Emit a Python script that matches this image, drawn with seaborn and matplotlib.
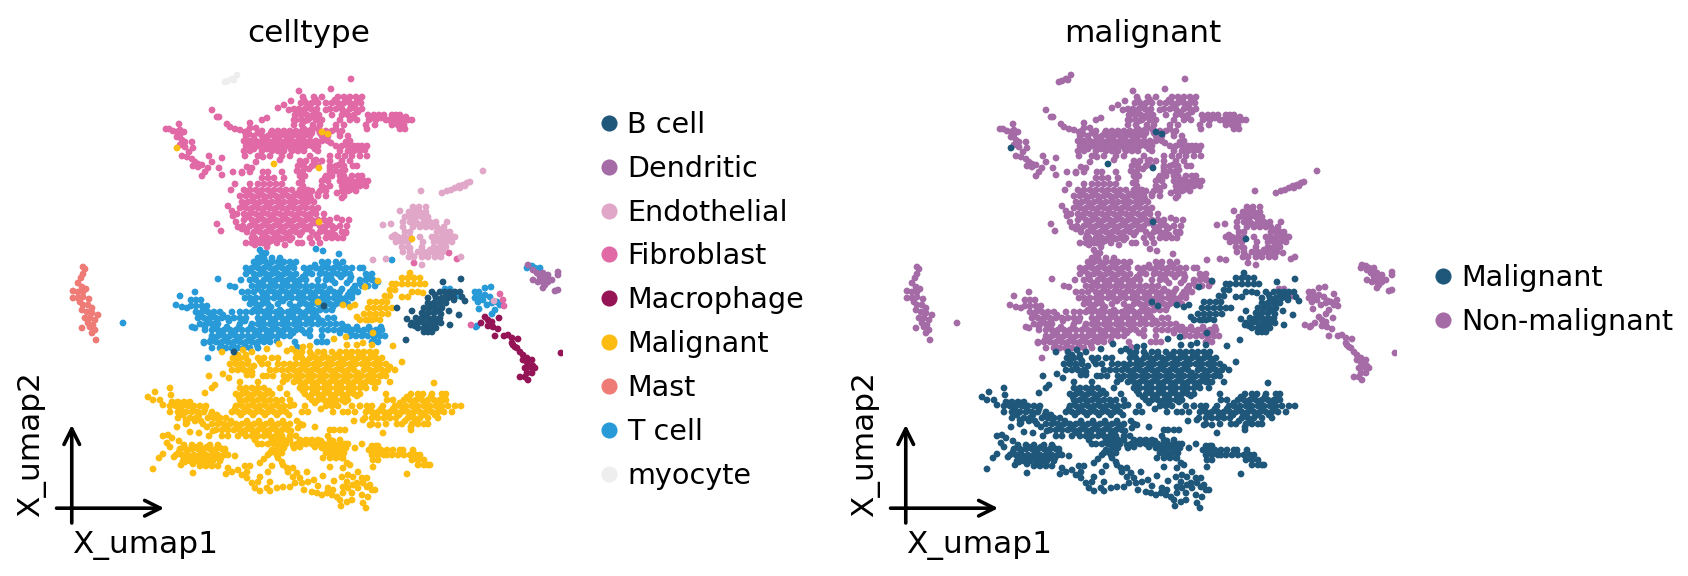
import pandas as pd
import matplotlib
matplotlib.use("Agg")
import matplotlib.pyplot as plt
import seaborn as sns

# values, umap2 axis runs downwards here
# rows are (umap2, [umap1, ...]), extras are single (umap1, umap2) points
fibroblast_rows = [
    (97, [303, 314, 322, 338, 344, 350, 356, 362]),
    (103, [301, 306, 312, 318, 326, 332, 338, 344, 350, 356, 361]),
    (109, [294, 299, 305, 311, 317, 330, 336, 342, 350, 356, 362]),
    (115, [295, 301, 307, 313, 319, 332, 342, 348, 354, 368, 374, 379, 384, 392, 396, 400]),
    (120, [294, 302, 308, 316, 322, 340, 350, 357, 369, 376, 386, 392, 398, 403, 408, 412]),
    (125, [294, 302, 313, 320, 336, 344, 366, 375, 392, 398, 404]),
    (129, [304, 312, 318, 336, 367, 400, 405]),
    (133, [302, 312, 320, 327, 340]),
    (131, [248, 262, 272, 278, 284, 290, 296, 302, 308, 320, 326, 332, 342]),
    (136, [246, 254, 262, 268, 274, 280, 286, 292, 298, 304, 310, 322, 328, 340, 348]),
    (141, [244, 250, 256, 262, 268, 274, 280, 286, 292, 298, 304, 310, 316, 322, 328, 350]),
    (146, [246, 252, 258, 264, 270, 276, 282, 288, 294, 300, 306, 312, 318, 336, 342, 348, 354, 362, 367]),
    (151, [244, 250, 262, 272, 278, 284, 292, 298, 304, 318, 340, 348, 354, 360]),
    (156, [245, 258, 270, 282, 290, 310, 330, 338, 345, 352, 360, 367]),
    (161, [300, 306, 314, 322, 330, 342, 350]),
    (166, [298, 304, 312, 318, 330, 336, 344, 353, 357]),
    (171, [297, 303, 330, 336, 342]),
    (176, [300, 305, 326, 332, 344, 352, 358, 362]),
    (181, [302, 322, 328, 340, 346, 352, 358, 364, 368]),
    (186, [303, 322, 330, 342, 348, 354, 360, 366]),
    (191, [304, 312, 320, 326, 342, 348, 356]),
    (196, [310, 318, 326, 344]),
    (172, [233, 242, 250, 263, 268, 282]),
    (178, [262, 268, 274, 284]),
    (184, [235, 250, 258, 264, 270, 276, 282]),
    (190, [231, 244, 250, 256, 262, 268, 274, 280, 286, 292, 300]),
    (196, [240, 246, 252, 258, 264, 270, 276, 282, 288, 294, 300, 306]),
    (202, [242, 248, 254, 260, 266, 272, 278, 284, 290, 296, 302, 308, 314]),
    (208, [240, 246, 252, 258, 264, 270, 276, 282, 288, 294, 300, 306, 312, 318]),
    (214, [244, 250, 256, 262, 268, 274, 280, 286, 292, 298, 304, 310, 316, 324]),
    (220, [244, 252, 258, 264, 270, 276, 282, 288, 294, 300, 306, 312, 318, 324, 330, 342, 349]),
    (226, [243, 250, 256, 262, 268, 274, 280, 286, 292, 298, 304, 310, 320, 326, 332, 340, 347]),
    (232, [247, 254, 260, 266, 272, 278, 284, 290, 296, 302, 312, 320, 326, 332, 342, 346]),
    (238, [252, 255, 262, 268, 274, 280, 286, 292, 310, 318, 326, 332, 338, 343]),
    (243, [246, 252, 260, 263, 268, 277, 298, 302, 312, 320]),
]
fibroblast_extra = [
    (351, 79), (331, 89), (299, 91), (284, 105), (278, 108), (291, 101), (289, 110),
    (267, 118), (262, 120), (250, 123), (212, 110), (217, 117), (219, 117),
    (227, 124), (230, 127), (235, 129), (240, 130), (245, 132), (250, 128), (256, 128),
    (209, 156), (212, 162), (222, 158), (219, 168), (222, 175), (263, 157), (280, 160), (256, 162),
    (337, 193), (342, 198), (247, 167), (252, 168), (242, 173),
    (255, 245), (267, 247), (285, 245), (335, 235), (346, 233),
    (228, 206), (232, 211), (237, 214), (233, 216), (217, 224), (221, 231), (236, 222), (238, 227), (242, 229),
    (166, 129), (169, 129), (173, 131), (177, 132), (180, 130), (179, 124), (184, 132), (180, 135), (177, 137),
    (182, 140), (180, 145), (185, 142), (192, 142), (185, 147), (193, 148), (189, 152), (182, 156), (187, 157),
    (192, 159), (195, 162), (198, 164), (193, 166), (202, 165), (198, 167), (208, 168), (205, 172), (202, 176),
    (414, 263), (449, 253), (457, 259), (471, 325), (500, 294), (503, 300), (504, 306),
    # denser spots
    (247, 193), (253, 199), (259, 193), (265, 199), (272, 194), (278, 199), (285, 193), (291, 199), (297, 194),
    (303, 199), (245, 205), (251, 211), (257, 205), (263, 211), (269, 205), (275, 211), (281, 205), (287, 211),
    (293, 205), (299, 211), (305, 205), (311, 199), (310, 215), (248, 217), (254, 223), (260, 217), (266, 223),
    (272, 217), (278, 223), (284, 217), (290, 223), (296, 217), (302, 223), (308, 217), (315, 211), (247, 229),
    (253, 235), (259, 229), (265, 235), (271, 229), (277, 235), (283, 229), (289, 235), (295, 229), (300, 235),
    (307, 229), (258, 241), (264, 239), (271, 241), (282, 239), (290, 240), (315, 223), (322, 229), (328, 235),
    (316, 235), (329, 223), (335, 228), (337, 218),
    (249, 134), (258, 133), (265, 139), (271, 133), (277, 139), (283, 133), (289, 139), (295, 133), (301, 139),
    (307, 134), (248, 144), (254, 149), (260, 143), (267, 149), (273, 144), (279, 149), (285, 143), (291, 149),
    (297, 144), (303, 149), (309, 144), (315, 149), (325, 137), (331, 143), (346, 142), (340, 148), (352, 151),
    (358, 146), (365, 150),
    (304, 100), (310, 106), (316, 100), (335, 100), (341, 106), (347, 100), (353, 106), (359, 100), (298, 112),
    (304, 112), (310, 118), (316, 112), (296, 120), (305, 121), (326, 110), (345, 112), (352, 118), (358, 112),
    (372, 118), (381, 118), (389, 120), (395, 120), (401, 123), (406, 117),
    (302, 164), (309, 169), (316, 160), (330, 168), (339, 165), (345, 170), (348, 180), (355, 184), (361, 179),
    (344, 186), (350, 190), (325, 188), (318, 194), (308, 190), (301, 174), (299, 183), (340, 176), (325, 178),
]
endothelial_rows = [
    (207, [413, 419, 426]),
    (212, [409, 414, 420, 426]),
    (217, [405, 410, 416, 422, 428]),
    (222, [403, 410, 416, 424, 430, 436, 447]),
    (227, [403, 413, 420, 426, 432, 437, 444]),
    (232, [405, 410, 437, 442, 446, 450]),
    (237, [392, 398, 404, 410, 420, 432, 436, 442, 448, 453, 455]),
    (242, [396, 402, 408, 423, 434, 440, 446, 452]),
    (247, [402, 408, 422, 434, 440, 446]),
    (252, [403, 410, 418, 424, 432, 438, 443]),
    (257, [409, 414, 422, 428, 435, 441, 461]),
]
endothelial_extra = [
    (442, 193), (447, 191), (451, 190), (455, 188), (459, 186), (463, 185), (467, 183), (470, 182), (460, 188), (465, 186),
    (483, 171), (421, 191), (400, 211), (383, 225), (391, 224), (395, 235), (373, 260), (386, 259), (422, 265),
    (494, 301),
    (416, 209), (422, 214), (412, 220), (418, 224), (428, 220), (434, 225), (440, 230), (445, 235), (439, 240),
    (445, 245), (451, 240), (436, 250), (405, 240), (399, 240), (410, 248), (412, 256), (426, 255), (430, 250),
]
tcell_rows = [
    (253, [262, 266]),
    (258, [258, 264, 272, 280]),
    (262, [254, 260, 266, 272, 278, 284, 290, 296, 322, 328, 336, 343]),
    (268, [246, 252, 258, 264, 270, 276, 282, 288, 294, 304, 310, 316, 322, 328, 334, 340, 346, 352, 360, 363]),
    (274, [246, 254, 260, 266, 272, 278, 284, 290, 296, 306, 312, 320, 326, 332, 338, 344, 350, 366, 372]),
    (280, [241, 250, 256, 264, 270, 276, 282, 288, 294, 300, 306, 318, 326, 332, 350, 360, 366, 372]),
    (286, [252, 258, 264, 270, 276, 282, 288, 294, 300, 306, 312, 318, 324, 355, 362, 368, 375]),
    (292, [242, 248, 254, 262, 268, 274, 280, 286, 292, 298, 304, 310, 316, 322, 328, 334, 340, 350, 358]),
    (298, [245, 250, 256, 262, 268, 274, 280, 286, 292, 298, 304, 310, 316, 322, 328, 334, 340, 346, 352]),
    (304, [250, 256, 262, 268, 278, 290, 300, 306, 312, 318, 324, 330, 336, 342, 348]),
    (310, [254, 260, 268, 280, 292, 298, 308, 314, 320, 326, 332]),
    (300, [191, 196, 201]),
    (306, [191, 196, 202, 207]),
    (312, [196, 202, 208, 214, 220, 232, 240, 246, 252, 258, 264, 270, 276, 282, 288, 294, 300, 306, 312]),
    (318, [198, 204, 210, 216, 222, 228, 234, 240, 246, 258, 264, 270, 276, 282, 288, 294, 300, 306, 312, 318, 328, 334]),
    (324, [200, 206, 212, 218, 240, 252, 258, 264, 270, 276, 282, 288, 294, 300, 306, 312, 318, 324, 330, 336, 342]),
    (330, [205, 212, 218, 224, 230, 236, 242, 248, 254, 260, 266, 272, 278, 284, 290, 296, 302, 310, 322, 328, 334, 340, 346, 352, 358, 364, 370, 376, 380]),
    (336, [212, 218, 224, 230, 236, 242, 248, 254, 260, 266, 272, 278, 284, 290, 310, 322, 350, 356, 362, 368, 374, 380, 385]),
    (342, [204, 210, 216, 222, 228, 234, 240, 246, 252, 258, 264, 270, 317, 322, 372, 378]),
    (348, [212, 220, 226, 232, 238, 244, 250, 258]),
]
tcell_extra = [
    (260, 250), (316, 249), (323, 251), (339, 254), (218, 279), (230, 286), (235, 287), (373, 280), (378, 282),
    (355, 290), (352, 295), (342, 299), (180, 296), (195, 292), (176, 305), (182, 307), (187, 308),
    (192, 327), (195, 328), (204, 343), (208, 358), (232, 348), (277, 341), (295, 342), (297, 347), (327, 342),
    (374, 340), (123, 323), (392, 260), (211, 340),
    (475, 292), (479, 292), (485, 288), (491, 287), (480, 297), (485, 295), (490, 297), (475, 298), (478, 302),
    (483, 300), (487, 305), (492, 303), (497, 302), (500, 305), (495, 310), (492, 314), (479, 309), (477, 326), (476, 327),
    (527, 268), (532, 266), (535, 268), (540, 268), (445, 289), (450, 289), (459, 296), (380, 329), (382, 330),
    # denser spots
    (257, 265), (263, 271), (269, 265), (275, 271), (281, 265), (287, 271), (293, 265), (249, 271), (255, 277),
    (261, 283), (267, 277), (273, 283), (279, 277), (285, 283), (291, 277), (297, 283), (303, 277), (309, 271),
    (315, 265), (321, 271), (327, 265), (333, 271), (339, 265), (345, 271), (351, 277), (327, 277), (335, 283),
    (341, 277), (347, 283), (353, 289), (360, 283), (367, 277), (258, 289), (264, 295), (270, 289), (276, 295),
    (282, 289), (288, 295), (294, 289), (300, 295), (306, 289), (312, 295), (318, 289), (324, 295), (330, 289),
    (336, 295), (342, 289), (348, 295), (354, 289), (253, 301), (259, 307), (265, 301), (271, 307), (283, 301),
    (295, 307), (303, 301), (309, 307), (315, 301), (321, 307), (327, 301), (333, 307), (339, 301), (345, 301),
    (199, 315), (205, 309), (211, 315), (217, 321), (223, 315), (229, 321), (205, 327), (209, 321), (215, 327),
    (221, 333), (227, 327), (233, 333), (239, 327), (245, 321), (251, 327), (257, 333), (263, 327), (269, 333),
    (275, 327), (281, 333), (287, 327), (293, 333), (299, 327), (305, 333), (262, 321), (268, 315), (274, 321),
    (280, 315), (286, 321), (292, 315), (298, 321), (304, 315), (310, 321), (316, 315), (322, 321), (345, 327),
    (351, 333), (357, 327), (363, 333), (369, 327), (375, 333), (381, 327), (215, 339), (221, 345), (227, 339),
    (233, 345), (239, 339), (245, 345), (251, 339), (257, 345), (263, 339), (269, 339), (340, 333), (348, 327),
]
malignant_rows = [
    (278, [402, 408, 414, 420]),
    (284, [392, 396, 402, 408, 414, 420, 425]),
    (290, [390, 395]),
    (296, [385, 390]),
    (302, [370, 376, 382, 387]),
    (308, [368, 374, 380, 386, 392]),
    (314, [364, 370, 376, 382, 388]),
    (320, [360, 366, 372, 380]),
    (352, [296, 302, 310, 318, 324, 332, 340, 346, 352, 358, 364, 370, 376]),
    (358, [233, 240, 246, 258, 264, 272, 278, 296, 302, 310, 316, 322, 328, 334, 340, 346, 352, 358, 364, 370, 376, 382]),
    (364, [230, 236, 242, 248, 262, 268, 278, 284, 290, 296, 302, 308, 314, 320, 326, 332, 338, 344, 350, 356, 362, 368, 374, 380, 386]),
    (370, [232, 238, 244, 250, 270, 276, 282, 288, 294, 300, 306, 312, 318, 324, 330, 336, 342, 348, 354, 364, 370, 376, 382, 388, 395]),
    (376, [263, 267, 273, 284, 290, 296, 302, 308, 314, 320, 326, 332, 338, 344, 350, 356, 362, 368, 374, 380, 386]),
    (382, [240, 258, 283, 294, 300, 306, 312, 318, 324, 330, 336, 342, 348, 354, 360, 366, 372, 378, 390]),
    (388, [240, 246, 252, 258, 264, 280, 300, 306, 312, 318, 324, 330, 336, 342, 348, 354, 360, 366, 375]),
    (394, [236, 242, 248, 254, 260, 266, 272, 287, 305, 312, 318, 324, 330, 336, 342, 348, 354, 360]),
    (400, [240, 246, 252, 258, 264, 270, 276, 282, 290, 312, 318, 324, 330, 336, 342, 348, 387]),
    (406, [236, 242, 248, 254, 260, 266, 272, 278, 284, 290, 305, 326, 332, 338, 352, 360]),
    (412, [232, 238, 244, 250, 256, 262, 268, 274, 280, 286, 302, 308, 333, 343, 348, 355]),
    (402, [172, 178, 184, 190]),
    (406, [170, 176, 182, 188, 194, 200, 206]),
    (412, [170, 178, 186, 192, 198, 204, 212]),
    (418, [178, 190, 196, 208, 214, 220, 226]),
    (424, [186, 212, 218, 224, 230, 236, 242, 248, 254, 260, 266, 272, 278, 284, 290, 300]),
    (430, [216, 222, 228, 234, 240, 246, 252, 258, 264, 270, 276, 282, 288, 330, 334, 340, 345]),
    (436, [222, 228, 238, 246, 252, 258, 264, 270, 276, 282, 290, 296, 328]),
    (394, [386, 411, 418, 423, 432, 442, 446]),
    (400, [393, 404, 410, 416, 422, 428, 434, 440, 446]),
    (406, [360, 367, 372, 383, 395, 400, 406, 412, 418, 424, 430, 436, 442, 448, 455, 461]),
    (412, [366, 372, 378, 384, 390, 396, 402, 408, 414, 420, 426, 432, 438, 444, 452]),
    (418, [365, 372, 378, 384, 390, 396, 408, 414, 420, 428, 438]),
    (424, [372, 386, 397, 402, 412, 418, 424, 428]),
    (445, [184, 192, 200, 210, 218]),
    (449, [180, 186, 192, 198, 204, 210, 216, 222, 225]),
    (455, [176, 182, 188, 194, 200, 206, 212, 218, 224, 228]),
    (461, [183, 190, 196, 202, 208, 213, 220]),
    (466, [200, 206, 212, 218]),
    (440, [255, 272, 278, 284, 290, 300, 306, 312, 318, 330, 340]),
    (444, [258, 262, 268, 274, 280, 286, 297, 300, 306, 312, 318, 324, 330, 334, 340, 348, 362]),
    (448, [278, 284, 294, 322, 328, 334, 340, 346, 355]),
    (453, [270, 276, 282, 326, 332, 338, 344]),
    (458, [323, 330, 336, 342]),
    (446, [372, 376, 378]),
    (450, [369, 375, 381, 387, 393, 400, 403, 413]),
    (455, [372, 378, 384, 387, 392, 398, 404, 410, 416, 420]),
    (460, [373, 378, 412, 418, 424]),
    (465, [418, 424, 428, 430]),
]
malignant_extra = [
    (410, 273), (412, 292), (418, 292), (423, 293), (402, 297), (408, 297),
    (365, 287), (378, 281), (318, 302), (343, 305), (350, 307), (355, 305), (357, 317), (368, 320), (375, 319),
    (373, 333), (334, 339), (346, 337),
    (243, 350), (222, 352), (252, 352), (267, 349), (279, 344), (287, 351), (292, 349), (303, 347), (310, 346),
    (347, 345), (357, 345), (363, 343), (372, 345), (393, 346), (402, 362),
    (209, 376), (223, 374), (229, 378), (247, 375), (252, 372), (215, 385), (212, 388), (205, 393),
    (148, 397), (155, 392), (170, 388), (171, 395), (153, 400), (160, 400), (163, 405),
    (186, 420), (187, 423), (177, 427), (190, 432), (199, 433), (203, 424), (434, 383),
    (354, 421), (363, 420), (370, 425), (378, 425), (383, 433), (411, 430),
    (163, 436), (168, 435), (172, 438), (167, 443), (170, 447), (174, 457), (163, 454), (159, 458), (153, 469),
    (181, 465), (185, 462), (193, 473), (235, 456), (209, 436),
    (298, 428), (303, 425), (315, 427), (407, 474), (373, 467),
    (277, 455), (278, 458), (282, 462), (283, 465), (287, 468), (288, 472), (293, 468), (293, 477), (295, 483),
    (290, 487), (283, 487), (277, 488), (270, 491), (267, 488), (260, 491), (255, 488), (252, 483), (247, 478),
    (242, 475), (238, 470), (245, 466), (250, 466), (247, 472), (228, 468), (226, 474), (232, 472), (260, 463),
    (264, 459), (268, 455), (272, 450), (272, 466), (268, 472), (260, 477), (258, 482), (270, 482), (297, 473),
    (300, 478), (302, 483), (304, 490), (307, 472), (308, 482), (314, 480), (323, 476), (330, 467), (318, 486),
    (312, 492), (317, 493), (322, 495), (327, 493), (332, 495), (337, 497), (340, 500), (341, 506), (347, 502),
    (352, 500), (343, 493), (348, 488), (353, 485), (352, 493), (358, 488), (362, 495), (363, 503), (366, 508),
    (368, 497), (372, 490), (367, 487), (363, 483), (370, 485), (375, 490), (333, 490), (334, 481), (342, 477),
    (348, 475), (353, 477), (358, 472), (343, 468), (347, 463), (350, 465), (343, 458), (362, 478), (367, 478),
    (357, 483), (347, 482), (343, 487), (328, 488),
    (177, 148), (274, 164), (319, 168), (319, 222), (328, 134), (322, 132), (412, 239),
    # denser spots
    (300, 355), (306, 361), (312, 355), (318, 361), (324, 355), (330, 361), (336, 355), (342, 361), (348, 355),
    (354, 361), (360, 355), (366, 361), (372, 355), (378, 361), (292, 367), (298, 373), (304, 367), (310, 373),
    (316, 367), (322, 373), (328, 367), (334, 373), (340, 367), (346, 373), (352, 367), (358, 373), (366, 367),
    (372, 373), (378, 367), (384, 373), (390, 367), (287, 379), (297, 379), (303, 385), (309, 379), (315, 385),
    (321, 379), (327, 385), (333, 379), (339, 385), (345, 379), (351, 385), (357, 379), (363, 385), (369, 379),
    (375, 382), (381, 376), (303, 391), (309, 397), (315, 391), (321, 397), (327, 391), (333, 397), (339, 391),
    (345, 397), (351, 391), (357, 396), (315, 403), (321, 409), (327, 403), (335, 402), (345, 402),
    (236, 361), (242, 367), (248, 361), (254, 366), (260, 361), (238, 355), (246, 355), (252, 375),
    (245, 391), (251, 397), (257, 391), (263, 397), (269, 391), (239, 397), (241, 403), (247, 409), (253, 403),
    (259, 409), (265, 403), (271, 409), (277, 403), (283, 409), (235, 409), (241, 415), (247, 421), (253, 415),
    (259, 421), (265, 415), (271, 421), (277, 415), (283, 421), (289, 415), (294, 405), (219, 421), (225, 427),
    (231, 421), (237, 427), (243, 433), (249, 427), (255, 433), (261, 427), (267, 433), (273, 427), (279, 433),
    (285, 427), (291, 431), (297, 421),
    (175, 403), (181, 409), (187, 403), (193, 409), (199, 415), (205, 409), (211, 415), (217, 415), (183, 415),
    (195, 421), (201, 421), (207, 427), (213, 431),
    (400, 403), (407, 397), (413, 403), (419, 397), (425, 403), (431, 397), (437, 403), (443, 400), (405, 409),
    (411, 415), (417, 409), (423, 415), (429, 409), (435, 415), (441, 409), (381, 409), (387, 415), (393, 409),
    (399, 415), (375, 415), (369, 409), (405, 421), (417, 421), (411, 427),
    (179, 441), (187, 451), (195, 447), (201, 452), (207, 447), (213, 452), (219, 447), (225, 452), (179, 452),
    (185, 458), (191, 458), (197, 458), (203, 458), (209, 458), (215, 458), (221, 458), (193, 464), (205, 464),
    (300, 447), (309, 441), (315, 447), (321, 441), (327, 447), (333, 441), (339, 447), (345, 444), (329, 451),
    (335, 456), (341, 451), (304, 443), (275, 440), (281, 446), (287, 441), (293, 445),
]
bcell_rows = [
    (292, [432, 440, 445, 450, 455, 460]),
    (298, [428, 436, 442, 448, 454]),
    (303, [428, 434, 440, 446]),
    (308, [424, 430, 436, 442]),
    (313, [422, 428, 434]),
    (318, [416, 422, 428, 434, 440]),
    (323, [412, 418, 424, 430, 436, 441]),
    (328, [418, 424, 430, 436]),
    (332, [424, 428, 432]),
]
bcell_extra = [
    (443, 282), (461, 279), (406, 340), (397, 308), (412, 311), (407, 319), (450, 325), (459, 315), (449, 311),
    (441, 314), (465, 301), (462, 297), (454, 300), (411, 325), (234, 352), (324, 306),
    (435, 295), (441, 301), (447, 295), (453, 296), (431, 306), (437, 311), (425, 316), (431, 321), (427, 326),
    (421, 321), (415, 326), (433, 326), (439, 320),
]
macrophage_extra = [
    (485, 317), (481, 323), (488, 320), (492, 322), (488, 326), (493, 327), (499, 318), (498, 329), (495, 336),
    (504, 336), (508, 335), (512, 338), (518, 339), (513, 345), (517, 348), (520, 352), (523, 355), (527, 358),
    (532, 360), (527, 362), (530, 367), (535, 368), (525, 368), (527, 373), (532, 373), (520, 377), (525, 377),
    (528, 380), (561, 353), (523, 360), (528, 365), (533, 366), (512, 343), (515, 347),
]
dendritic_extra = [
    (528, 265), (533, 270), (537, 273), (543, 273), (548, 275), (558, 272), (558, 275), (533, 280), (538, 282),
    (543, 282), (548, 282), (552, 280), (543, 288), (558, 290), (555, 291), (543, 278), (540, 277), (547, 278), (545, 285),
]
mast_extra = [
    (83, 267), (85, 269), (83, 274), (81, 278), (78, 283), (82, 287), (73, 291), (78, 292), (83, 292), (86, 289),
    (73, 298), (78, 298), (83, 297), (80, 302), (89, 299), (83, 305), (88, 305), (92, 308), (82, 310), (87, 312),
    (92, 313), (98, 315), (85, 318), (90, 318), (95, 320), (82, 328), (90, 327), (95, 330), (92, 333), (96, 340),
    (88, 323), (93, 325),
]
myocyte_extra = [(225, 82), (228, 81), (232, 79), (234, 80), (237, 75)]

celltypes = ["B cell", "Dendritic", "Endothelial", "Fibroblast", "Macrophage", "Malignant", "Mast", "T cell", "myocyte"]
celltype_colors = ["#1F577B", "#A56BA7", "#E0A7C8", "#E069A6", "#941456", "#FCBC10", "#EF7B77", "#279AD7", "#EEEEEF"]
status_names = ["Malignant", "Non-malignant"]
status_colors = ["#1F577B", "#A56BA7"]


def flatten(rows, extra):
    pts = [(x, y) for y, xs in rows for x in xs]
    return pts + extra


clusters = {
    "T cell": flatten(tcell_rows, tcell_extra),
    "Fibroblast": flatten(fibroblast_rows, fibroblast_extra),
    "Endothelial": flatten(endothelial_rows, endothelial_extra),
    "Malignant": flatten(malignant_rows, malignant_extra),
    "B cell": flatten(bcell_rows, bcell_extra),
    "Macrophage": macrophage_extra,
    "Dendritic": dendritic_extra,
    "Mast": mast_extra,
    "myocyte": myocyte_extra,
}

frames = []
for name, pts in clusters.items():
    part = pd.DataFrame(pts, columns=["X_umap1", "X_umap2"])
    part["celltype"] = name
    frames.append(part)
df = pd.concat(frames, ignore_index=True)
df["malignant"] = ["Malignant" if c in ("Malignant", "B cell") else "Non-malignant" for c in df["celltype"]]

W, H = 1688, 576
sns.set_theme(style="white")
plt.rcParams["font.family"] = ["DejaVu Sans"]
fig = plt.figure(figsize=(W / 200, H / 200), dpi=200)


def panel(left, hue, order, colors):
    ax = fig.add_axes([left / W, 1 - 523 / H, 508 / W, 463 / H])
    sns.scatterplot(data=df, x="X_umap1", y="X_umap2", hue=hue, hue_order=order,
                    palette=colors, s=6, linewidth=0, ax=ax)
    ax.set_xlim(55, 563)
    ax.set_ylim(523, 60)
    ax.set_title(hue, fontsize=11.2, pad=6.6, color="black")
    ax.set_xlabel("")
    ax.set_ylabel("")
    ax.axis("off")

    # small arrows instead of a frame
    arrow = dict(arrowstyle="->", color="black", lw=1.3, mutation_scale=14, shrinkA=0, shrinkB=0)
    ax.annotate("", xy=(0.215, 0.032), xytext=(0.003, 0.032), xycoords="axes fraction", arrowprops=arrow)
    ax.annotate("", xy=(0.033, 0.212), xytext=(0.033, 0), xycoords="axes fraction", arrowprops=arrow)
    ax.text(0.033, -0.064, "X_umap1", transform=ax.transAxes, fontsize=11.2, color="black", clip_on=False)
    ax.text(-0.031, 0.013, "X_umap2", transform=ax.transAxes, fontsize=11.2, color="black",
            rotation=90, rotation_mode="anchor", ha="left", va="baseline", clip_on=False)

    sns.move_legend(ax, "center left", bbox_to_anchor=(1.073, 0.481), frameon=False, title=None,
                    fontsize=10.3, labelspacing=0.555, handlelength=0.59, handletextpad=0.35,
                    borderpad=0, borderaxespad=0)
    for h in ax.get_legend().legend_handles:
        h.set_markersize(5.8)
    for t in ax.get_legend().get_texts():
        t.set_color("black")


panel(55, "celltype", celltypes, celltype_colors)
panel(889, "malignant", status_names, status_colors)

fig.savefig("out.png", dpi=200)
